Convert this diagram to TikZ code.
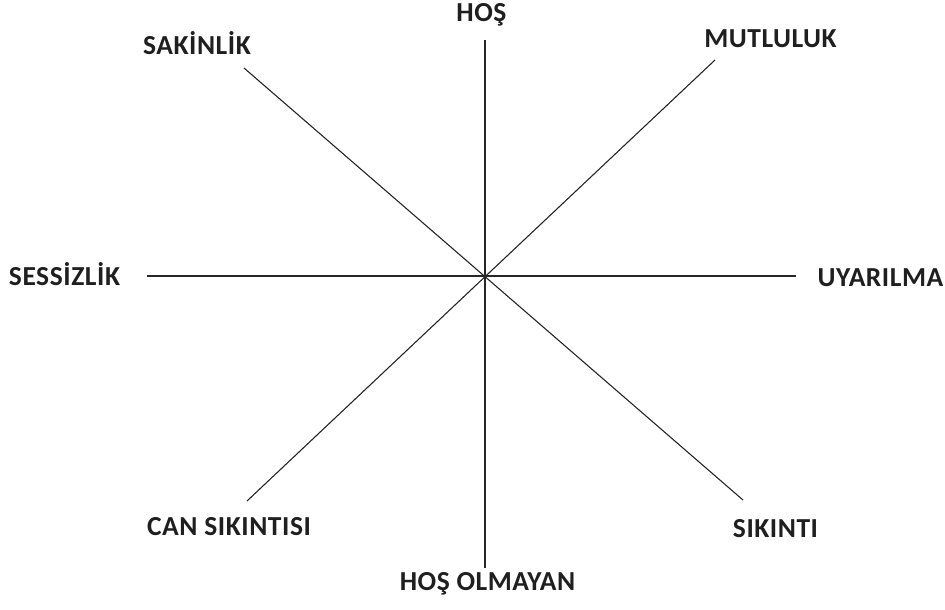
\documentclass[tikz,border=0pt]{standalone}
\usepackage{fontspec}
\setmainfont{Carlito}[LetterSpace=2]
\begin{document}
\begin{tikzpicture}[x=1pt,y=-1pt,
  lbl/.style={font=\fontsize{27.5}{32}\selectfont\bfseries, text=black!88, inner sep=0pt, anchor=base},
  axis/.style={draw=black!85, line width=1.1pt}]
\useasboundingbox (0,0) rectangle (945,610);
\coordinate (c) at (485,277);
\coordinate (t) at (485,40);
\coordinate (b) at (485,568);
\coordinate (l) at (147,276);
\coordinate (r) at (796,276);
\coordinate (tl) at (244,68);
\coordinate (br) at (743,500);
\coordinate (tr) at (715,60);
\coordinate (bl) at (247,501);
\draw[axis] (t) -- (b);
\draw[axis] (l) -- (r);
\draw[axis] (tl) -- (br);
\draw[axis] (tr) -- (bl);
\node[lbl] (hos) at (481.5,22) {HOŞ};
\node[lbl] (sak) at (197,55) {SAKİNLİK};
\node[lbl] (mut) at (770.5,48) {MUTLULUK};
\node[lbl] (ses) at (64.5,285) {SESSİZLİK};
\node[lbl] (uya) at (880.5,286) {UYARILMA};
\node[lbl] (can) at (229,535) {CAN SIKINTISI};
\node[lbl] (sik) at (775.5,537) {SIKINTI};
\node[lbl] (hol) at (487.5,590) {HOŞ OLMAYAN};
\end{tikzpicture}
\end{document}
